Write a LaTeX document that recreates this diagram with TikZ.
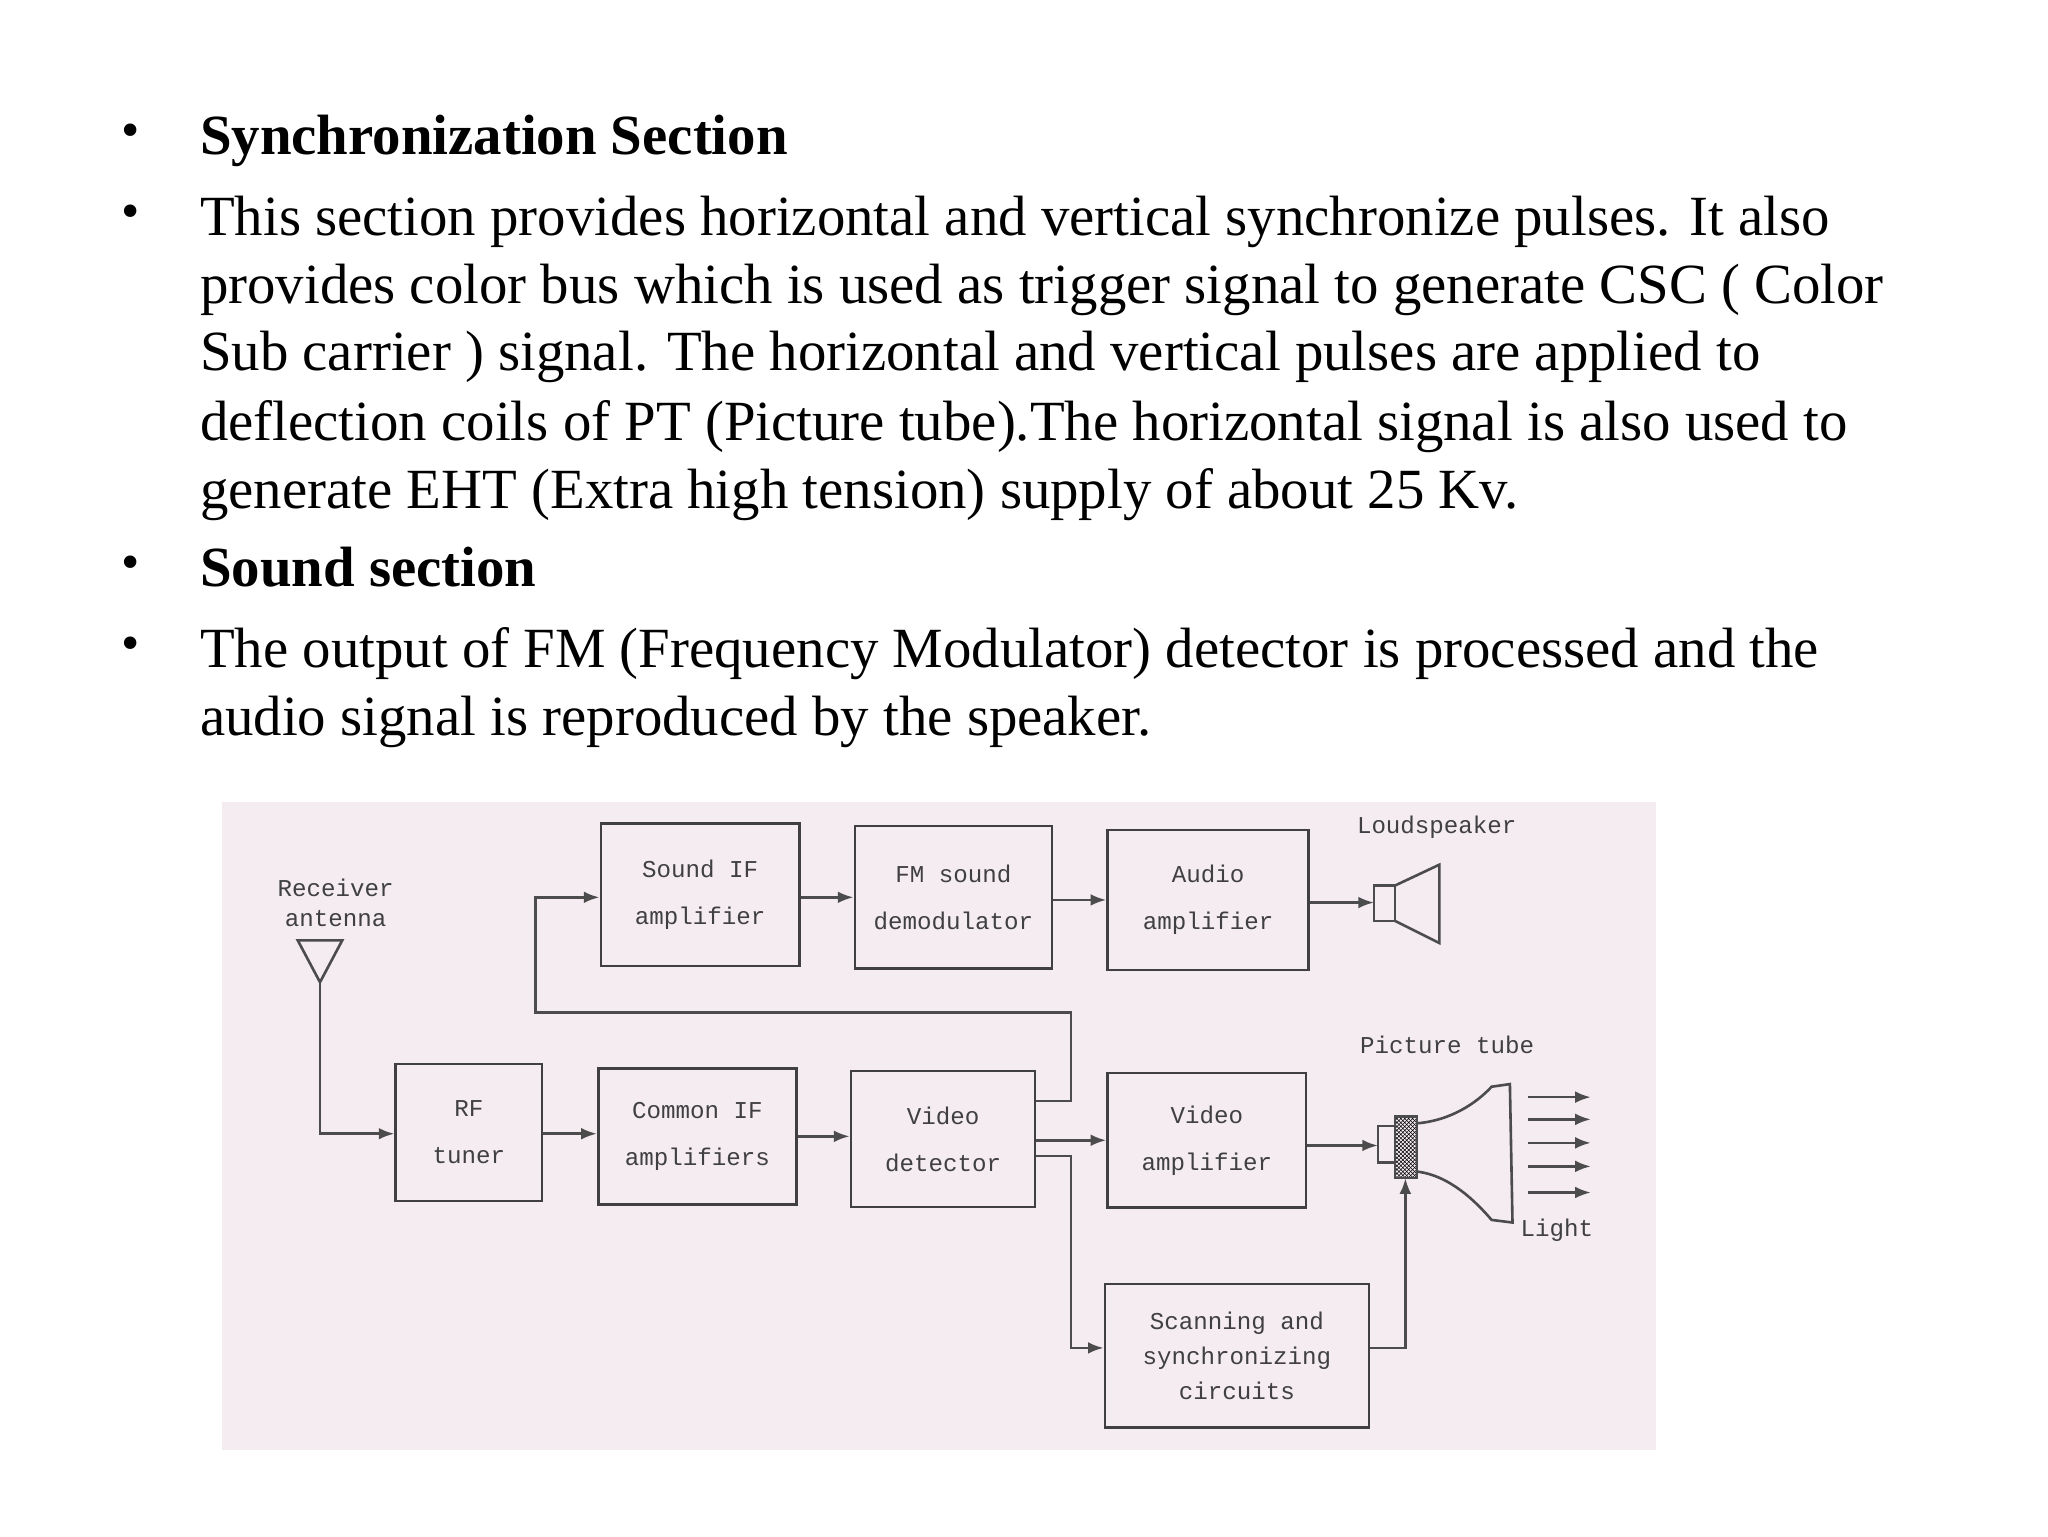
\documentclass[tikz,border=0pt]{standalone}
\usepackage{fontspec}
\setmainfont{Liberation Serif}
\newfontfamily\diag{Liberation Mono}
\usetikzlibrary{arrows.meta,patterns}
\definecolor{bgp}{RGB}{245,236,242}
\begin{document}
\begin{tikzpicture}[x=1pt,y=-1pt,
  ln/.style={anchor=base west,inner sep=0pt,font=\fontsize{43.5}{50}\selectfont},
  bul/.style={anchor=center,inner sep=0pt,font=\fontsize{40}{40}\selectfont},
  blk/.style={draw=black!75,line width=2pt,fill=none,align=center,font=\diag\fontsize{18.5}{36}\selectfont,text=black!75},
  wire/.style={draw=black!70,line width=2pt},
  arr/.style={wire,-{Latex[length=12pt,width=9pt]}},
  lab/.style={font=\diag\fontsize{18.5}{23}\selectfont,text=black!75,align=center,inner sep=0pt}]
\useasboundingbox (0,0) rectangle (1568,1176);
\fill[white] (0,0) rectangle (1568,1176);
% text
\foreach \y in {104,166,435,497} \node[bul] at (100,\y) {•};
\node[ln] (t1) at (153,118) {\textbf{Synchronization Section}};
\node[ln] (t2) at (153,180) {This section provides horizontal and vertical synchronize pulses. It also};
\node[ln] (t3) at (153,232) {provides color bus which is used as trigger signal to generate CSC ( Color};
\node[ln] (t4) at (153,284) {Sub carrier ) signal. The horizontal and vertical pulses are applied to};
\node[ln] (t5) at (153,337) {deflection coils of PT (Picture tube).The horizontal signal is also used to};
\node[ln] (t6) at (153,389) {generate EHT (Extra high tension) supply of about 25 Kv.};
\node[ln] (t7) at (153,449) {\textbf{Sound section}};
\node[ln] (t8) at (153,511) {The output of FM (Frequency Modulator) detector is processed and the};
\node[ln] (t9) at (153,563) {audio signal is reproduced by the speaker.};
% diagram background
\fill[bgp] (170,614) rectangle (1268,1110);
% boxes
\node[blk,minimum width=152pt,minimum height=109pt] (sif) at (536,685) {Sound IF\\amplifier};
\node[blk,minimum width=151pt,minimum height=109pt] (fm) at (730,687) {FM sound\\demodulator};
\node[blk,minimum width=154pt,minimum height=107pt] (aud) at (925,689) {Audio\\amplifier};
\node[blk,minimum width=112pt,minimum height=105pt] (rf) at (359,867) {RF\\tuner};
\node[blk,minimum width=152pt,minimum height=104pt] (cif) at (534,870) {Common IF\\amplifiers};
\node[blk,minimum width=141pt,minimum height=104pt] (vd) at (722,872) {Video\\detector};
\node[blk,minimum width=152pt,minimum height=103pt] (va) at (924,873) {Video\\amplifier};
\node[blk,minimum width=202pt,minimum height=110pt,font=\diag\fontsize{18.5}{27}\selectfont] (sc) at (947,1038) {Scanning and\\synchronizing\\circuits};
% antenna
\node[lab] (ant) at (257,691) {Receiver\\antenna};
\coordinate (ap) at (245,752);
\draw[wire] (228,720) -- (262,720) -- (ap) -- cycle;
\draw[arr] (ap) |- (rf.west |- 0,868);
% arrows
\draw[arr] (rf.east |- 0,868) -- (cif.west |- 0,868);
\draw[arr] (cif.east |- 0,870) -- (vd.west |- 0,870);
\draw[arr] (vd.east |- 0,873) -- (va.west |- 0,873);
\draw[arr] (vd.east |- 0,843) -- (820,843) -- (820,775) -- (410,775) -- (410,687) -- (sif.west |- 0,687);
\draw[arr] (sif.east |- 0,687) -- (fm.west |- 0,687);
\draw[arr] (fm.east |- 0,689) -- (aud.west |- 0,689);
\draw[arr] (vd.east |- 0,885) -- (820,885) -- (820,1032) -- (sc.west |- 0,1032);
% loudspeaker
\node[lab] (ls) at (1100,633) {Loudspeaker};
\coordinate (spk) at (1052,691);
\draw[arr] (aud.east |- 0,691) -- (spk);
\draw[wire] (1052,678) rectangle (1068,705);
\draw[wire] (1068,678) -- (1102,662) -- (1102,722) -- (1068,705);
% picture tube
\node[lab] (pt) at (1108,800) {Picture tube};
\coordinate (neck) at (1055,877);
\draw[arr] (va.east |- 0,877) -- (neck);
\draw[wire] (1055,862) rectangle (1068,890);
\draw[wire,pattern=crosshatch] (1068,855) rectangle (1085,902);
\draw[wire] (1085,860) .. controls (1110,858) and (1130,845) .. (1142,832) -- (1156,830) -- (1158,936) -- (1142,934) .. controls (1130,920) and (1110,900) .. (1085,897);
\coordinate (gridb) at (1076,902);
\draw[arr] (sc.east |- 0,1032) -- (1076,1032) -- (gridb);
\foreach \y in {840,857,875,893,913} \draw[arr] (1170,\y) -- (1218,\y);
\node[lab] (light) at (1192,942) {Light};
\end{tikzpicture}
\end{document}
